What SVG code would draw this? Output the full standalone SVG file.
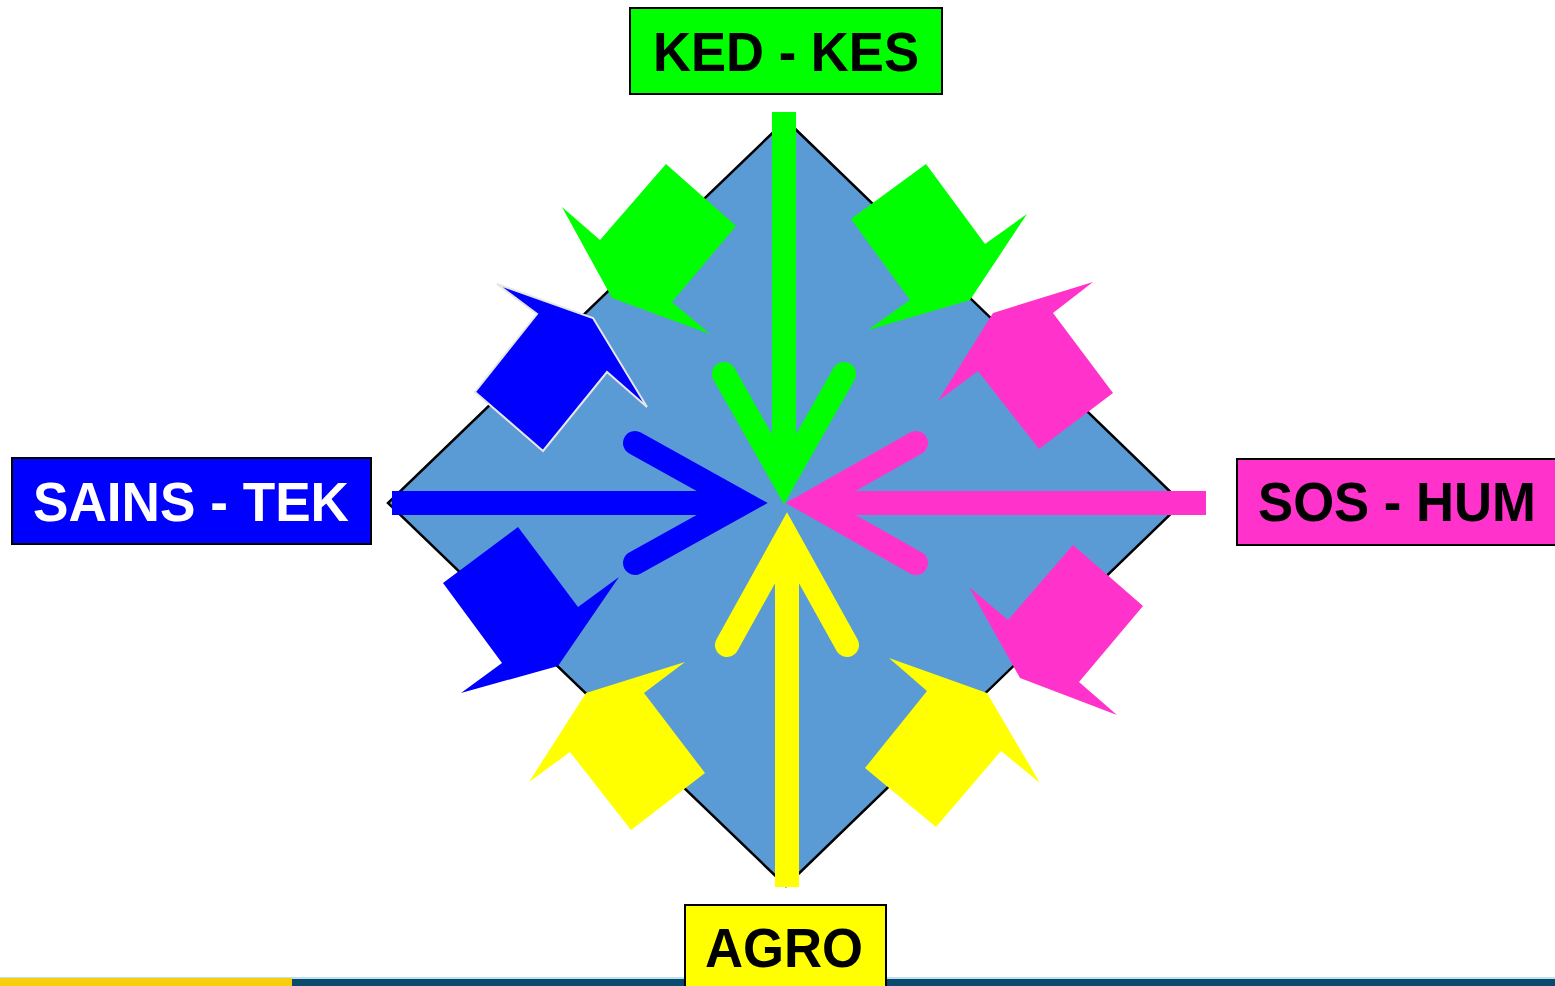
<svg xmlns="http://www.w3.org/2000/svg" width="1555" height="986" viewBox="0 0 1555 986">
  <style>
    .lbl { font-family: "Liberation Sans", Arial, sans-serif; font-weight: bold; font-size: 55px; text-anchor: middle; }
    .box { stroke: #000; stroke-width: 2; }
    .head { fill: none; stroke-width: 24; stroke-linecap: round; stroke-linejoin: miter; stroke-miterlimit: 6; }
  </style>
  <rect x="0" y="0" width="1555" height="986" fill="#fff"/>
  <!-- bottom strip -->
  <rect x="0" y="977" width="1555" height="2" fill="#bfe0ee"/>
  <rect x="0" y="979" width="1555" height="7" fill="#0A4A6E"/>
  <rect x="0" y="978" width="292" height="8" fill="#F7CF0C"/>

  <!-- central diamond -->
  <g id="diamond">
    <polygon points="786,120 1182,503 786,886 388,503" fill="#5B9BD5" stroke="#000" stroke-width="2.5"/>
  </g>

  <!-- block arrows -->
  <g id="block-arrows">
    <polygon fill="#00FF00" points="562,207 600,240 666,164 736,226 672,302 710,334 612,298"/>
    <polygon fill="#00FF00" points="851,219 926,164 985,244 1027,214 970,300 868,330 910,300"/>
    <polygon fill="#0000FF" stroke="#E6E6E6" stroke-width="2" points="497,284 537,314 475,392 543,451 607,372 647,407 593,318"/>
    <polygon fill="#0000FF" points="518,527 578,607 619,577 558,666 461,693 502,663 443,583"/>
    <polygon fill="#FF33CC" points="993,313 1093,282 1053,313 1113,393 1039,449 978,371 938,401"/>
    <polygon fill="#FF33CC" points="1073,545 1143,606 1079,682 1117,715 1020,678 969,587 1008,620"/>
    <polygon fill="#FFFF00" points="586,693 685,662 644,693 705,773 631,830 570,752 529,782"/>
    <polygon fill="#FFFF00" points="889,658 987,693 1040,783 1001,751 936,827 865,768 927,691"/>
  </g>

  <!-- connectors: arrows to centre -->
  <g id="connectors">
    <rect x="772" y="112" width="24" height="370" fill="#00FF00"/>
    <polyline class="head" stroke="#00FF00" points="724,374 784,480 844,374"/>
    <rect x="392" y="491" width="353" height="24" fill="#0000FF"/>
    <polyline class="head" stroke="#0000FF" points="635,443 743,503 635,563"/>
    <rect x="808" y="491" width="398" height="24" fill="#FF33CC"/>
    <polyline class="head" stroke="#FF33CC" points="916,443 810,503 916,563"/>
    <rect x="775" y="535" width="24" height="352" fill="#FFFF00"/>
    <polyline class="head" stroke="#FFFF00" points="727,645 787,537 847,645"/>
  </g>

  <g id="node-kedkes">
    <rect class="box" x="630" y="8" width="312" height="86" fill="#00FF00"/>
    <text class="lbl" x="786" y="71" fill="#000" textLength="266" lengthAdjust="spacingAndGlyphs">KED - KES</text>
  </g>
  <g id="node-sainstek">
    <rect class="box" x="12" y="458" width="359" height="86" fill="#0000FF"/>
    <text class="lbl" x="191" y="521" fill="#fff" textLength="316" lengthAdjust="spacingAndGlyphs">SAINS - TEK</text>
  </g>
  <g id="node-soshum">
    <rect class="box" x="1237" y="459" width="330" height="86" fill="#FF33CC"/>
    <text class="lbl" x="1397" y="521" fill="#000" textLength="278" lengthAdjust="spacingAndGlyphs">SOS - HUM</text>
  </g>
  <g id="node-agro">
    <rect class="box" x="685" y="905" width="201" height="100" fill="#FFFF00"/>
    <text class="lbl" x="784" y="967" fill="#000" textLength="158" lengthAdjust="spacingAndGlyphs">AGRO</text>
  </g>
</svg>
